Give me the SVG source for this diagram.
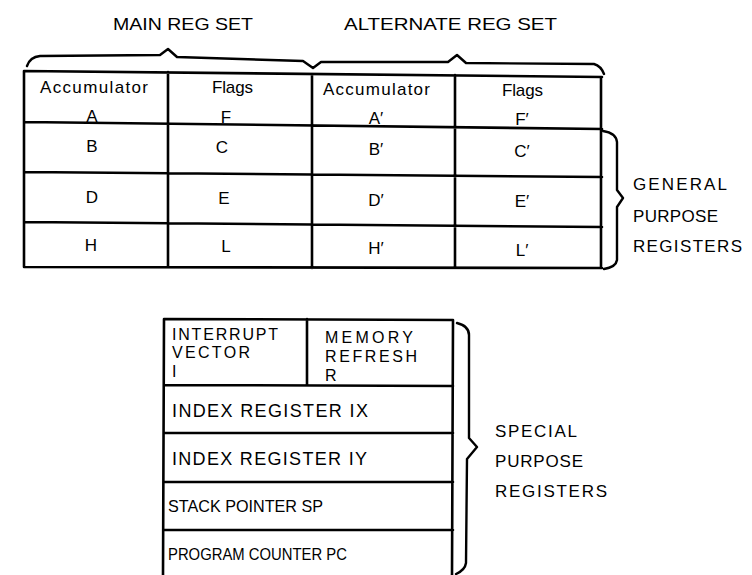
<svg xmlns="http://www.w3.org/2000/svg" width="752" height="575" viewBox="0 0 752 575">
<style>
.ln{fill:none;stroke:#000;stroke-width:2.6;stroke-linejoin:round;stroke-linecap:round}
.br{fill:none;stroke:#000;stroke-width:2.4;stroke-linejoin:round;stroke-linecap:round}
text{font-family:"Liberation Sans",Arial,sans-serif;fill:#000}
.t{font-size:17px}
.c{font-size:17px;text-anchor:middle}
.s{font-size:18px}
.m{font-size:17px}
.k{font-size:16px}
.h{font-size:17px}
</style>
<rect width="752" height="575" fill="#fff"/>
<g id="headings">
<text class="h" x="113" y="30" textLength="140" lengthAdjust="spacingAndGlyphs">MAIN REG SET</text>
<text class="h" x="344" y="30" textLength="213" lengthAdjust="spacingAndGlyphs">ALTERNATE REG SET</text>
</g>
<g id="general-table">
<path class="ln" d="M24,71 L602,77 M24,122 L602,129 M24,172 L602,177 M24,222 L602,227 M24,267 L602,268 M24,71 L24,267 M168,72 L168,267 M312,74 L312,268 M455,75 L455,268 M601,77 L601,268"/>
</g>
<g id="cell-A"><text class="t" x="40" y="93" textLength="108" lengthAdjust="spacing">Accumulator</text><text class="c" x="92" y="122">A</text></g>
<g id="cell-F"><text class="t" x="212" y="93" textLength="41" lengthAdjust="spacing">Flags</text><text class="c" x="226" y="123">F</text></g>
<g id="cell-A2"><text class="t" x="323" y="95" textLength="107" lengthAdjust="spacing">Accumulator</text><text class="c" x="376" y="124">A′</text></g>
<g id="cell-F2"><text class="t" x="502" y="96" textLength="41" lengthAdjust="spacing">Flags</text><text class="c" x="522" y="125">F′</text></g>
<g id="cell-B"><text class="c" x="92" y="152">B</text></g>
<g id="cell-C"><text class="c" x="222" y="153">C</text></g>
<g id="cell-B2"><text class="c" x="376" y="155">B′</text></g>
<g id="cell-C2"><text class="c" x="522" y="157">C′</text></g>
<g id="cell-D"><text class="c" x="92" y="203">D</text></g>
<g id="cell-E"><text class="c" x="224" y="204">E</text></g>
<g id="cell-D2"><text class="c" x="376" y="206">D′</text></g>
<g id="cell-E2"><text class="c" x="522" y="207">E′</text></g>
<g id="cell-H"><text class="c" x="91" y="251">H</text></g>
<g id="cell-L"><text class="c" x="226" y="252">L</text></g>
<g id="cell-H2"><text class="c" x="376" y="254">H′</text></g>
<g id="cell-L2"><text class="c" x="522" y="256">L′</text></g>
<g id="special-table">
<path class="ln" d="M164,319 L453,320 M164,385 L453,386 M164,433 L453,433 M164,482 L453,482 M164,530 L453,530 M164,319 L163,576 M453,320 L452,576 M307,319 L307,385"/>
</g>
<g id="reg-I"><text class="k" x="172" y="340" textLength="106" lengthAdjust="spacing">INTERRUPT</text><text class="k" x="172" y="358" textLength="78" lengthAdjust="spacing">VECTOR</text><text class="k" x="172" y="377">I</text></g>
<g id="reg-R"><text class="k" x="325" y="343" textLength="88" lengthAdjust="spacing">MEMORY</text><text class="k" x="325" y="362" textLength="92" lengthAdjust="spacing">REFRESH</text><text class="k" x="325" y="381">R</text></g>
<g id="reg-IX"><text class="s" x="172" y="417" textLength="196" lengthAdjust="spacing">INDEX REGISTER IX</text></g>
<g id="reg-IY"><text class="s" x="172" y="465" textLength="195" lengthAdjust="spacing">INDEX REGISTER IY</text></g>
<g id="reg-SP"><text class="m" x="168" y="512" textLength="155" lengthAdjust="spacingAndGlyphs">STACK POINTER SP</text></g>
<g id="reg-PC"><text class="m" x="168" y="560" textLength="179" lengthAdjust="spacingAndGlyphs">PROGRAM COUNTER PC</text></g>
<g id="connectors">
<path class="br" d="M27,66 Q30,57 40,56 L160,55 L168,49 L177,57 L303,61 L313,68 L321,62 L448,62 L457,55 L466,63 L594,64 Q601,66 604,74"/>
<path class="br" d="M603,131 Q616,133 617,142 L617,190 L623,198 L617,207 L617,260 Q616,267 604,269"/>
<path class="br" d="M457,323 Q469,326 469,335 L469,438 L477,447 L467,459 L466,563 Q465,570 456,574"/>
</g>
<g id="label-general">
<text class="h" x="633" y="190" textLength="94" lengthAdjust="spacing">GENERAL</text>
<text class="h" x="633" y="222" textLength="85" lengthAdjust="spacing">PURPOSE</text>
<text class="h" x="633" y="252" textLength="109" lengthAdjust="spacing">REGISTERS</text>
</g>
<g id="label-special">
<text class="h" x="495" y="437" textLength="82" lengthAdjust="spacing">SPECIAL</text>
<text class="h" x="495" y="467" textLength="88" lengthAdjust="spacing">PURPOSE</text>
<text class="h" x="495" y="497" textLength="112" lengthAdjust="spacing">REGISTERS</text>
</g>
</svg>
